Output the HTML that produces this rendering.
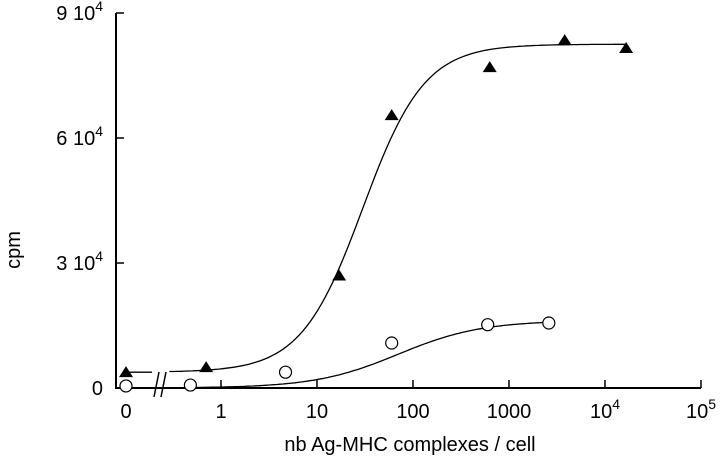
<!DOCTYPE html>
<html><head><meta charset="utf-8"><style>
html,body{margin:0;padding:0;background:#fff;}
svg{display:block;font-family:"Liberation Sans",Arial,sans-serif;}
</style></head><body>
<svg id="chart" width="720" height="460" viewBox="0 0 720 460">
</svg>
<script>
// data
const triX = [0, 0.7, 17, 60, 630, 3800, 16600];
const triY = [3800, 5000, 27000, 65500, 77000, 83500, 81600];
const circX = [0, 0.48, 4.7, 60, 600, 2600];
const circY = [500, 700, 3800, 10800, 15200, 15600];
const xTickVals = [0, 1, 10, 100, 1000, 10000, 100000];
const xTickLabels = ["0", "1", "10", "100", "1000", "10^4", "10^5"];
const yTickVals = [0, 30000, 60000, 90000];
const yTickLabels = ["0", "3 10^4", "6 10^4", "9 10^4"];
const triFit = [3800, 82500, 30, 1.35];   // bottom, top, EC50, hill
const circFit = [0, 16200, 70, 1.0];

const NS = "http://www.w3.org/2000/svg";
const svg = document.getElementById("chart");
function el(tag, attrs, parent) {
  const e = document.createElementNS(NS, tag);
  for (const k in attrs) e.setAttribute(k, attrs[k]);
  (parent || svg).appendChild(e);
  return e;
}
const X0 = 126, X1 = 221, DEC = 96;
function xs(v) { return v === 0 ? X0 : X1 + DEC * Math.log10(v); }
function ys(v) { return 388 - v * (125 / 30000); }
function hill(p, x) { return p[0] + (p[1] - p[0]) * Math.pow(x, p[3]) / (Math.pow(x, p[3]) + Math.pow(p[2], p[3])); }

// axes
const ax = el("g", {});


const yAxis = el("line", {x1: 116, y1: ys(90000), x2: 116, y2: 388, stroke: "#000", "stroke-width": 2}, ax);


const xAxis = el("line", {x1: 115, y1: 388, x2: xs(100000), y2: 388, stroke: "#000", "stroke-width": 2}, ax);


const brk = el("g", {stroke: "#000", "stroke-width": 1.5}, ax);


el("line", {x1: 154, y1: 397, x2: 159, y2: 372}, brk);
el("line", {x1: 161, y1: 397, x2: 166, y2: 372}, brk);

yTickVals.forEach((v, i) => {
  const y = ys(v);
  if (v > 0) {
    const t = el("line", {x1: 116, y1: y, x2: 124, y2: y, stroke: "#000", "stroke-width": 1.5}, ax);
    
    
  }
  const parts = yTickLabels[i].split("^");
  const tx = el("text", {x: 103, y: y + 7, "font-size": 20, "text-anchor": "end"}, ax);
  
  
  tx.textContent = parts[0];
  if (parts[1]) {
    const s = el("tspan", {dy: -9, "font-size": 14}, tx);
    s.textContent = parts[1];
  }
});
xTickVals.forEach((v, i) => {
  const x = xs(v);
  if (v > 0) {
    const t = el("line", {x1: x, y1: 388, x2: x, y2: 380, stroke: "#000", "stroke-width": 1.5}, ax);
    
    
  }
  const parts = xTickLabels[i].split("^");
  const tx = el("text", {x: x, y: 418, "font-size": 20, "text-anchor": "middle"}, ax);
  
  
  tx.textContent = parts[0];
  if (parts[1]) {
    const s = el("tspan", {dy: -9, "font-size": 14}, tx);
    s.textContent = parts[1];
  }
});
const xt = el("text", {x: 410, y: 451, "font-size": 20, "text-anchor": "middle"});


xt.textContent = "nb Ag-MHC complexes / cell";
const yt = el("text", {x: 0, y: 0, "font-size": 20, "text-anchor": "middle", transform: "translate(20,250) rotate(-90)"});


yt.textContent = "cpm";

// curves
function curve(p, xmin, xmax, name, flat) {
  let d = "";
  if (flat) d += "M" + xs(0) + "," + ys(hill(p, 0)) + " L152," + ys(hill(p, 0)) + " ";
  const lo = Math.log10(xmin), hi = Math.log10(xmax);
  for (let i = 0; i <= 120; i++) {
    const lx = lo + (hi - lo) * i / 120;
    const v = Math.pow(10, lx);
    d += (i === 0 ? "M" : "L") + xs(v).toFixed(1) + "," + ys(hill(p, v)).toFixed(1) + " ";
  }
  const c = el("path", {d: d, fill: "none", stroke: "#000", "stroke-width": 1.3});
  
  
}
curve(triFit, 0.29, 16600, "triangle-fit-curve", true);
curve(circFit, 0.48, 2600, "circle-fit-curve", false);

// markers
triX.forEach((v, i) => {
  const x = xs(v), y = ys(triY[i]);
  const m = el("polygon", {points: `${x},${y - 6} ${x - 7},${y + 5} ${x + 7},${y + 5}`, fill: "#000"});
  
  
});
circX.forEach((v, i) => {
  const m = el("circle", {cx: xs(v), cy: ys(circY[i]), r: 6, fill: "#fff", stroke: "#000", "stroke-width": 1.2});
  
  
});
</script>
</body></html>
